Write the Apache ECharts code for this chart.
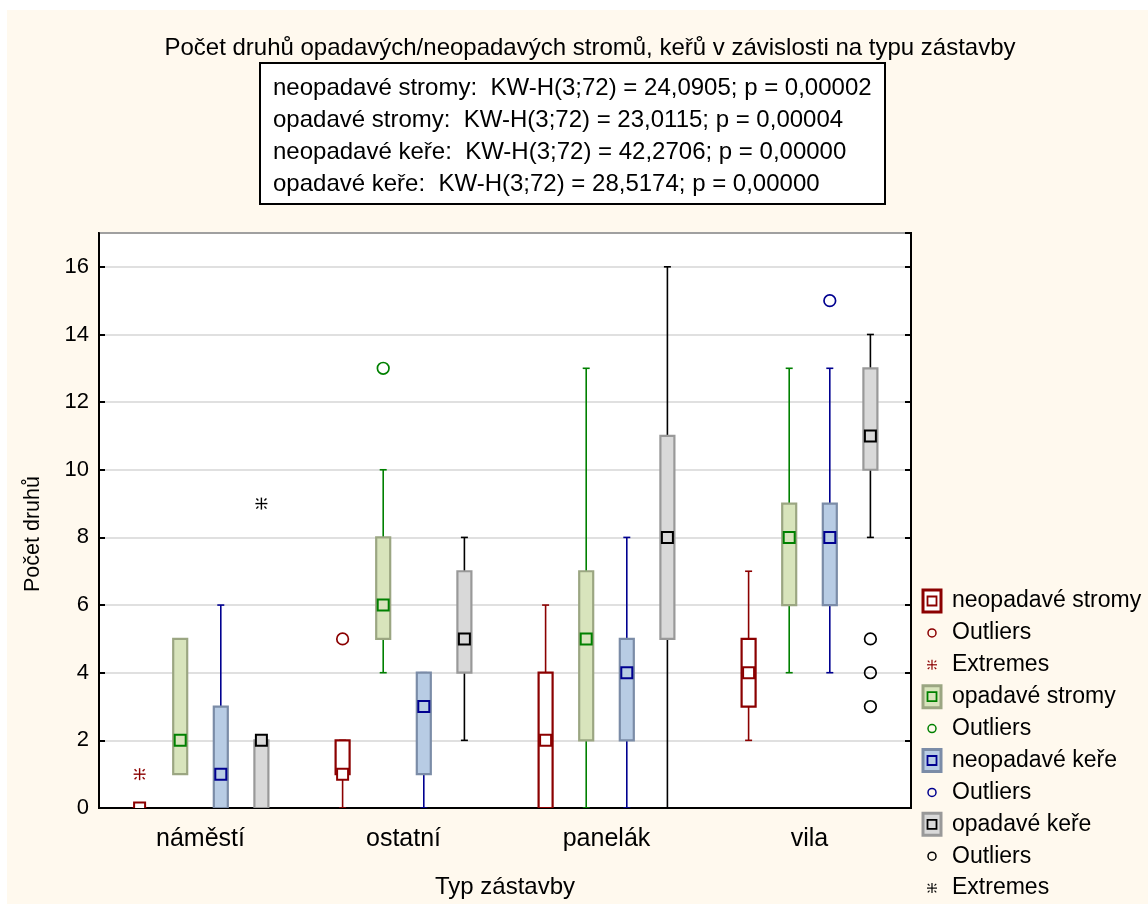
<!DOCTYPE html>
<html>
<head>
<meta charset="utf-8">
<script src="https://cdn.jsdelivr.net/npm/echarts@6/dist/echarts.min.js"></script>
<style>
  html, body { margin: 0; padding: 0; background: #ffffff; }
  #paper { position: absolute; left: 7px; top: 10px; width: 1141px; height: 894px; background: #fff9ee; }
  #chart { position: absolute; left: 0; top: 0; width: 1148px; height: 904px; }
</style>
</head>
<body>
<div id="paper"></div>
<div id="chart"></div>
<script>
// Building types (x categories)
const categories = ['náměstí', 'ostatní', 'panelák', 'vila'];

// Per category: [min, q1, median, q3, max] (non-outlier range, quartiles, median)
const neopadaveStromy = [[0, 0, 0, 0, 0], [0, 1, 1, 2, 2], [0, 0, 2, 4, 6], [2, 3, 4, 5, 7]];
const opadaveStromy   = [[1, 1, 2, 5, 5], [4, 5, 6, 8, 10], [0, 2, 5, 7, 13], [4, 6, 8, 9, 13]];
const neopadaveKere   = [[0, 0, 1, 3, 6], [0, 1, 3, 4, 4], [0, 2, 4, 5, 8], [4, 6, 8, 9, 13]];
const opadaveKere     = [[0, 0, 2, 2, 2], [2, 4, 5, 7, 8], [0, 5, 8, 11, 16], [8, 10, 11, 13, 14]];

// Outliers and extremes: [category index, value]
const neopadaveStromyOutliers = [[1, 5]];
const neopadaveStromyExtremes = [[0, 1]];
const opadaveStromyOutliers   = [[1, 13]];
const neopadaveKereOutliers   = [[3, 15]];
const opadaveKereOutliers     = [[3, 5], [3, 4], [3, 3]];
const opadaveKereExtremes     = [[0, 9]];

// Kruskal-Wallis summary lines
const kwLines = [
  'neopadavé stromy:  KW-H(3;72) = 24,0905; p = 0,00002',
  'opadavé stromy:  KW-H(3;72) = 23,0115; p = 0,00004',
  'neopadavé keře:  KW-H(3;72) = 42,2706; p = 0,00000',
  'opadavé keře:  KW-H(3;72) = 28,5174; p = 0,00000'
];

const yTicks = { min: 0, max: 17, interval: 2 };

const FONT = '"Liberation Sans", Arial, sans-serif';
const FS = 23;

const groups = [
  { name: 'neopadavé stromy', data: neopadaveStromy, offset: -0.3, line: '#8b0000', fill: '#ffffff', border: '#8b0000' },
  { name: 'opadavé stromy',   data: opadaveStromy,   offset: -0.1, line: '#008000', fill: '#d8e4bc', border: '#9ba682' },
  { name: 'neopadavé keře',   data: neopadaveKere,   offset:  0.1, line: '#000090', fill: '#b8cce4', border: '#7b8ca7' },
  { name: 'opadavé keře',     data: opadaveKere,     offset:  0.3, line: '#000000', fill: '#d9d9d9', border: '#999999' }
];

const BOX_W = 14, CAP_W = 7, MED = 11;

function boxRenderer(g) {
  return function (params, api) {
    const ci = api.value(0);
    const band = api.size([1, 0])[0];
    const cx = api.coord([ci, 0])[0] + g.offset * band;
    const y = v => api.coord([ci, v])[1];
    const yMin = y(api.value(1)), yQ1 = y(api.value(2)), yMed = y(api.value(3));
    const yQ3 = y(api.value(4)), yMax = y(api.value(5));
    const ls = { stroke: g.line, lineWidth: 1.6 };
    return {
      type: 'group',
      children: [
        { type: 'line', shape: { x1: cx, y1: yQ3, x2: cx, y2: yMax }, style: ls },
        { type: 'line', shape: { x1: cx, y1: yQ1, x2: cx, y2: yMin }, style: ls },
        { type: 'line', shape: { x1: cx - CAP_W / 2, y1: yMax, x2: cx + CAP_W / 2, y2: yMax }, style: ls },
        { type: 'line', shape: { x1: cx - CAP_W / 2, y1: yMin, x2: cx + CAP_W / 2, y2: yMin }, style: ls },
        { type: 'rect', shape: { x: cx - BOX_W / 2, y: yQ3, width: BOX_W, height: yQ1 - yQ3 },
          style: { fill: g.fill, stroke: g.border, lineWidth: 2.2 } },
        { type: 'rect', shape: { x: cx - MED / 2, y: yMed - MED / 2, width: MED, height: MED },
          style: { fill: g.fill, stroke: g.line, lineWidth: 2 } }
      ]
    };
  };
}

function outlierRenderer(g) {
  return function (params, api) {
    const band = api.size([1, 0])[0];
    const p = api.coord([api.value(0), api.value(1)]);
    return { type: 'circle', shape: { cx: p[0] + g.offset * band, cy: p[1], r: 5.8 },
             style: { fill: 'none', stroke: g.line, lineWidth: 1.7 } };
  };
}

function asterisk(cx, cy, s, color, lw) {
  const d = s * 0.42, e = s * 0.25;
  const st = { stroke: color, lineWidth: lw };
  return [
    { type: 'line', shape: { x1: cx - s / 2, y1: cy, x2: cx + s / 2, y2: cy }, style: st },
    { type: 'line', shape: { x1: cx, y1: cy - s / 2, x2: cx, y2: cy + s / 2 }, style: st },
    { type: 'line', shape: { x1: cx - d, y1: cy - d, x2: cx - e, y2: cy - e }, style: st },
    { type: 'line', shape: { x1: cx + d, y1: cy - d, x2: cx + e, y2: cy - e }, style: st },
    { type: 'line', shape: { x1: cx - d, y1: cy + d, x2: cx - e, y2: cy + e }, style: st },
    { type: 'line', shape: { x1: cx + d, y1: cy + d, x2: cx + e, y2: cy + e }, style: st }
  ];
}

function extremeRenderer(g) {
  return function (params, api) {
    const band = api.size([1, 0])[0];
    const p = api.coord([api.value(0), api.value(1)]);
    return { type: 'group', children: asterisk(p[0] + g.offset * band, p[1], 12, g.line, 1.4) };
  };
}

const series = [];
groups.forEach(g => {
  series.push({
    name: g.name, type: 'custom', renderItem: boxRenderer(g), clip: true,
    encode: { x: 0, y: [1, 2, 3, 4, 5] },
    data: g.data.map((d, i) => [i].concat(d))
  });
});
[[groups[0], neopadaveStromyOutliers], [groups[1], opadaveStromyOutliers],
 [groups[2], neopadaveKereOutliers], [groups[3], opadaveKereOutliers]].forEach(([g, pts]) => {
  series.push({ name: 'Outliers', type: 'custom', renderItem: outlierRenderer(g), clip: true,
                encode: { x: 0, y: 1 }, data: pts, z: 3 });
});
[[groups[0], neopadaveStromyExtremes], [groups[3], opadaveKereExtremes]].forEach(([g, pts]) => {
  series.push({ name: 'Extremes', type: 'custom', renderItem: extremeRenderer(g), clip: true,
                encode: { x: 0, y: 1 }, data: pts, z: 3 });
});

// Legend drawn as graphic elements (composite box icons)
const legendItems = [
  { kind: 'box', g: groups[0], text: groups[0].name },
  { kind: 'out', g: groups[0], text: 'Outliers' },
  { kind: 'ext', g: groups[0], text: 'Extremes' },
  { kind: 'box', g: groups[1], text: groups[1].name },
  { kind: 'out', g: groups[1], text: 'Outliers' },
  { kind: 'box', g: groups[2], text: groups[2].name },
  { kind: 'out', g: groups[2], text: 'Outliers' },
  { kind: 'box', g: groups[3], text: groups[3].name },
  { kind: 'out', g: groups[3], text: 'Outliers' },
  { kind: 'ext', g: groups[3], text: 'Extremes' }
];
const graphics = [];
const LX = 932, LTX = 952, LY0 = 601, LDY = 31.9;
legendItems.forEach((it, i) => {
  const cy = LY0 + i * LDY;
  if (it.kind === 'box') {
    graphics.push({ type: 'rect', shape: { x: LX - 9, y: cy - 11, width: 18, height: 22 },
      style: { fill: it.g.fill, stroke: it.g.border, lineWidth: 3 } });
    graphics.push({ type: 'rect', shape: { x: LX - 4.5, y: cy - 4.5, width: 9, height: 9 },
      style: { fill: it.g.fill, stroke: it.g.line, lineWidth: 1.8 } });
  } else if (it.kind === 'out') {
    graphics.push({ type: 'circle', shape: { cx: LX, cy: cy, r: 4 },
      style: { fill: 'none', stroke: it.g.line, lineWidth: 1.5 } });
  } else {
    graphics.push({ type: 'group', children: asterisk(LX, cy, 10, it.g.line, 1.2) });
  }
  graphics.push({ type: 'text', style: { text: it.text, x: LTX, y: cy, font: FS + 'px ' + FONT,
    fill: '#000', textAlign: 'left', textVerticalAlign: 'middle', align: 'left', verticalAlign: 'middle' } });
});

// Kruskal-Wallis box
graphics.push({ type: 'rect', shape: { x: 260, y: 63, width: 625, height: 141 },
  style: { fill: '#ffffff', stroke: '#000', lineWidth: 2 } });
kwLines.forEach((t, i) => {
  graphics.push({ type: 'text', style: { text: t, x: 273, y: 88 + i * 32, font: '24px ' + FONT,
    fill: '#000', textAlign: 'left', textVerticalAlign: 'middle', align: 'left', verticalAlign: 'middle' } });
});

// Y axis title
graphics.push({ type: 'text', x: 33, y: 534, rotation: Math.PI / 2,
  style: { text: 'Počet druhů', x: 0, y: 0, font: '21.5px ' + FONT, fill: '#000',
           textAlign: 'center', textVerticalAlign: 'middle', align: 'center', verticalAlign: 'middle' } });

const chart = echarts.init(document.getElementById('chart'), null, { renderer: 'canvas' });
chart.setOption({
  backgroundColor: 'transparent',
  animation: false,
  title: {
    text: 'Počet druhů opadavých/neopadavých stromů, keřů v závislosti na typu zástavby',
    left: 585, top: 31, textAlign: 'center',
    textStyle: { fontFamily: FONT, fontSize: 24, fontWeight: 'normal', color: '#000' }
  },
  grid: { left: 99, top: 233, width: 812, height: 576, show: true,
          backgroundColor: '#ffffff', borderColor: '#000', borderWidth: 2 },
  xAxis: {
    type: 'category', data: categories,
    name: 'Typ zástavby', nameLocation: 'middle', nameGap: 67,
    nameTextStyle: { fontFamily: FONT, fontSize: 24, color: '#000' },
    axisLine: { lineStyle: { color: '#000', width: 2 } },
    axisTick: { alignWithLabel: true, inside: true, length: 6, lineStyle: { color: '#000', width: 2 } },
    axisLabel: { fontFamily: FONT, fontSize: 25, color: '#000', margin: 19 },
    splitLine: { show: false }
  },
  yAxis: [{
    type: 'value', min: yTicks.min, max: yTicks.max, interval: yTicks.interval,
    axisLine: { show: true, lineStyle: { color: '#000', width: 2 } },
    axisTick: { show: true, inside: true, length: 6, lineStyle: { color: '#000', width: 2 } },
    axisLabel: { fontFamily: FONT, fontSize: 22, color: '#000', margin: 10, showMaxLabel: false },
    splitLine: { show: true, lineStyle: { color: '#d6d6d6', width: 1.6 } }
  }, {
    type: 'value', position: 'right', min: yTicks.min, max: yTicks.max, interval: yTicks.interval,
    axisLine: { show: true, lineStyle: { color: '#000', width: 2 } },
    axisTick: { show: true, inside: true, length: 6, lineStyle: { color: '#000', width: 2 } },
    axisLabel: { show: false },
    splitLine: { show: false }
  }],
  series: series,
  graphic: graphics
});
</script>
</body>
</html>
